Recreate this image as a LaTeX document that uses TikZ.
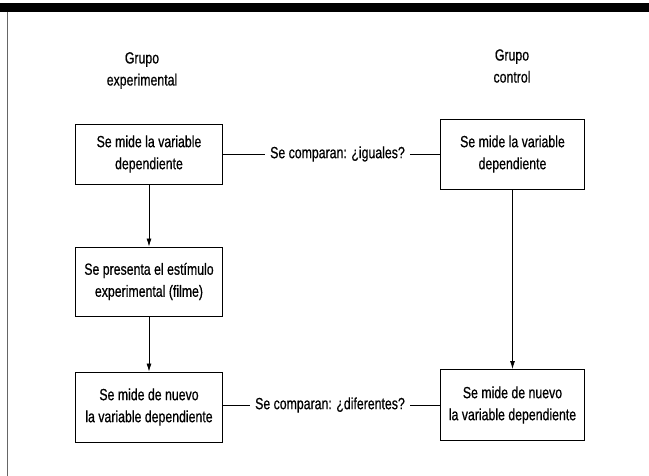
\documentclass[tikz,border=0pt]{standalone}
\usepackage{fontspec}
\setmainfont[FakeStretch=0.76,FakeBold=0.6]{Liberation Sans}
\usetikzlibrary{arrows.meta}
\begin{document}
\begin{tikzpicture}[x=1pt,y=-1pt,
  every node/.style={font=\fontsize{16.2}{22}\selectfont, align=center},
  stepbox/.style={draw, line width=0.9pt, minimum width=147pt, inner sep=0pt},
  flow/.style={draw, line width=0.8pt, -{Latex[length=8pt,width=5pt]}},
  link/.style={draw, line width=0.8pt},
  lbl/.style={inner sep=5pt}]
\useasboundingbox (0,0) rectangle (649,476);
\fill (0,3) rectangle (649,12);
\draw[line width=0.6pt, black!60] (7,12) -- (7,476);

\node (g1) at (142,70.5) {Grupo\\experimental};
\node (g2) at (512,66) {Grupo\\control};

\node[stepbox, minimum height=60pt] (A) at (149,154) {Se mide la variable\\dependiente};
\node[stepbox, minimum height=69pt] (B) at (149,281.5) {Se presenta el estímulo\\experimental (filme)};
\node[stepbox, minimum height=70pt] (C) at (149,407) {Se mide de nuevo\\la variable dependiente};
\node[stepbox, minimum width=144pt, minimum height=70pt] (D) at (512.5,154) {Se mide la variable\\dependiente};
\node[stepbox, minimum width=144pt, minimum height=71pt] (E) at (512.5,405) {Se mide de nuevo\\la variable dependiente};

\node[lbl] (k1) at (337.5,154) {Se comparan: ¿iguales?};
\node[lbl] (k2) at (330,405) {Se comparan: ¿diferentes?};

\draw[flow] (A) -- (B);
\draw[flow] (B) -- (C);
\draw[flow] (D) -- (E);

\draw[link] (A.east) -- (k1.west);
\draw[link] (k1.east) -- (D.west);
\draw[link] (C.east |- k2.west) -- (k2.west);
\draw[link] (k2.east) -- (E.west);
\end{tikzpicture}
\end{document}
